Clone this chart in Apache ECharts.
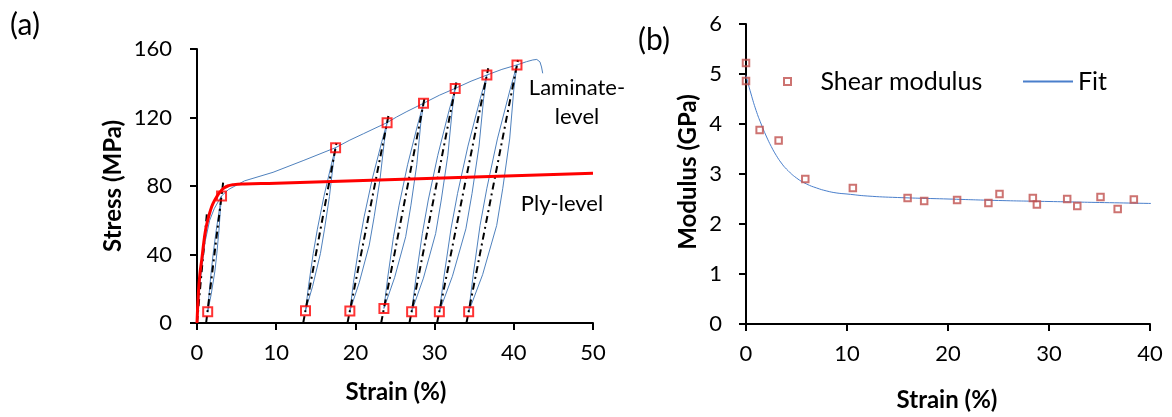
<!DOCTYPE html>
<html>
<head>
<meta charset="utf-8">
<script src="https://cdn.jsdelivr.net/npm/echarts@6/dist/echarts.min.js"></script>
<style>
html,body{margin:0;padding:0;background:#fff;}
#chart{width:1172px;height:417px;}
</style>
</head>
<body>
<div id="chart"></div>
<script>
// ---------- Panel (a) data ----------
const stressTicks = [0, 40, 80, 120, 160];
const strainTicksA = [0, 10, 20, 30, 40, 50];

// Ply-level model curve (red)
const plyLevel = [[0,0],[0.17,17],[0.35,28],[0.6,37],[1.0,52],[1.3,59],[1.65,65],[2.0,69.5],[2.5,73.8],[3.0,77],[3.4,78.8],[4.0,80.2],[4.6,80.8],[6,81.2],[10,81.6],[20,83],[30,84.5],[40,86],[50,87.4]];

// Laminate-level test curve (blue), load/unload loops in path order
const laminatePath = [
  [0,0],[0.4,24],[1.0,47],[1.6,60],[2.2,67],[2.7,71],[3.1,74.2],
  [2.97,67.4],[2.77,53.9],[2.50,40.4],[2.26,30.3],[1.79,16.7],[1.35,6.6],[1.52,16.7],[1.80,30.3],[2.04,40.4],[2.42,53.9],[2.86,67.4],[3.1,74.2],
  [4,78],[6,83],[9.6,88],[13.5,95],[17.5,102.4],
  [17.20,92.9],[16.72,73.8],[16.10,54.8],[15.58,40.5],[14.60,21.5],[13.7,7.2],[14.08,21.5],[14.67,40.5],[15.20,54.8],[16.02,73.8],[16.98,92.9],[17.5,102.4],
  [19.3,106.8],[21,110.5],[22.6,114],[24,117],
  [23.65,106],[23.11,84],[22.37,62],[21.75,45.5],[20.48,23.5],[19.3,7.0],[19.75,23.5],[20.46,45.5],[21.10,62],[22.12,84],[23.34,106],[24,117],
  [25.2,120.3],[26.5,123.5],[28.6,128.3],
  [28.25,116.3],[27.75,92.4],[27.0,68.4],[26.35,50.4],[24.95,26.5],[23.6,8.5],[24.08,26.5],[24.81,50.4],[25.5,68.4],[26.59,92.4],[27.89,116.3],[28.6,128.3],
  [30.6,133],[32.6,137],
  [32.22,124],[31.67,97.9],[30.84,71.8],[30.13,52.2],[28.59,26.2],[27.1,6.6],[27.64,26.2],[28.45,52.2],[29.20,71.8],[30.40,97.9],[31.82,124],[32.6,137],
  [34.6,141.2],[36.6,144.8],
  [36.19,131],[35.61,103.3],[34.73,75.7],[33.95,55],[32.25,27.3],[30.6,6.6],[31.19,27.3],[32.07,55],[32.9,75.7],[34.21,103.3],[35.76,131],[36.6,144.8],
  [38.5,148.1],[40.4,150.7],
  [40.0,136.3],[39.48,107.5],[38.61,78.7],[37.84,57.0],[36.06,28.2],[34.3,6.6],[34.88,28.2],[35.74,57.0],[36.6,78.7],[37.93,107.5],[39.53,136.3],[40.4,150.7],
  [41.6,152.6],[42.4,153.6],[42.9,153.9],[43.3,152.5],[43.5,149.5],[43.65,145.8]
];

// Loop end points (red squares)
const loopMarkers = [[1.35,6.6],[3.1,74.2],[13.7,7.2],[17.5,102.4],[19.3,7.0],[24.0,117],[23.6,8.5],[28.6,128.3],[27.1,6.6],[32.6,137],[30.6,6.6],[36.6,144.8],[34.3,6.6],[40.4,150.7]];

// Secant (chord) lines, black dash-dot
const chordLines = [
  [[0,0],[1.25,64]],
  [[1.15,0],[3.3,82]],
  [[13.41,0],[17.66,106.4]],
  [[19.0,0],[24.17,121]],
  [[23.25,0],[28.77,132.3]],
  [[26.82,0],[32.77,141]],
  [[30.31,0],[36.77,148.8]],
  [[34.02,0],[40.57,154.7]]
];

// ---------- Panel (b) data ----------
const modulusTicks = [0, 1, 2, 3, 4, 5, 6];
const strainTicksB = [0, 10, 20, 30, 40];
const shearModulus = [[0,5.22],[0,4.86],[1.35,3.88],[3.23,3.67],[5.87,2.90],[10.58,2.72],[16.0,2.52],[17.64,2.46],[20.9,2.48],[24.0,2.42],[25.1,2.60],[28.4,2.52],[28.8,2.39],[31.8,2.50],[32.8,2.36],[35.1,2.54],[36.8,2.30],[38.4,2.49]];
const fitCurve = [[0,4.97],[0.5,4.6],[1,4.27],[1.5,4.0],[2,3.76],[2.5,3.55],[3,3.37],[3.5,3.22],[4,3.10],[5,2.92],[6,2.80],[7,2.72],[8,2.66],[9,2.62],[10,2.60],[12,2.56],[15,2.53],[20,2.50],[25,2.47],[30,2.45],[35,2.43],[40.3,2.41]];

// ---------- chart ----------
const FONT = 'Lato';
const chart = echarts.init(document.getElementById('chart'), null, {renderer: 'canvas'});

function axisCommon(extra) {
  return Object.assign({
    type: 'value',
    splitLine: {show: false},
    axisLine: {show: true, onZero: false, lineStyle: {color: '#000', width: 2}},
    axisTick: {show: true, inside: false, length: 7, lineStyle: {color: '#000', width: 2}},
    axisLabel: {color: '#000', fontFamily: FONT, fontSize: 22}
  }, extra);
}

const series = [];
series.push({
  name: 'Laminate-level', type: 'line', xAxisIndex: 0, yAxisIndex: 0,
  data: laminatePath, symbol: 'none', smooth: false,
  lineStyle: {color: '#4F81BD', width: 1}, z: 2
});
chordLines.forEach((seg, i) => {
  series.push({
    name: 'chord' + i, type: 'line', xAxisIndex: 0, yAxisIndex: 0,
    data: seg, symbol: 'none',
    lineStyle: {color: '#000', width: 2, type: [7, 4, 2, 4]}, z: 3
  });
});
series.push({
  name: 'Ply-level', type: 'line', xAxisIndex: 0, yAxisIndex: 0,
  data: plyLevel, symbol: 'none', smooth: true,
  lineStyle: {color: '#FF0000', width: 3}, z: 4
});
series.push({
  name: 'Loop points', type: 'scatter', xAxisIndex: 0, yAxisIndex: 0,
  data: loopMarkers, symbol: 'rect', symbolSize: 9,
  itemStyle: {color: 'rgba(0,0,0,0)', borderColor: '#FF0000', borderWidth: 2}, z: 5
});
series.push({
  name: 'Fit', type: 'line', xAxisIndex: 1, yAxisIndex: 1,
  data: fitCurve, symbol: 'none', smooth: true,
  itemStyle: {color: 'rgba(0,0,0,0)', borderWidth: 0},
  lineStyle: {color: '#4A7FCB', width: 1}, z: 2
});
series.push({
  name: 'Shear modulus', type: 'scatter', xAxisIndex: 1, yAxisIndex: 1,
  data: shearModulus, symbol: 'rect', symbolSize: 6.5,
  itemStyle: {color: 'rgba(0,0,0,0)', borderColor: '#C0504D', borderWidth: 2}, z: 3
});

const option = {
  animation: false,
  backgroundColor: '#fff',
  grid: [
    {left: 197, top: 49, width: 396, height: 274, containLabel: false},
    {left: 746, top: 24, width: 404, height: 300, containLabel: false}
  ],
  xAxis: [
    axisCommon({gridIndex: 0, min: strainTicksA[0], max: strainTicksA[strainTicksA.length-1], interval: 10,
      axisLabel: {color: '#000', fontFamily: FONT, fontSize: 22, margin: 19}}),
    axisCommon({gridIndex: 1, min: strainTicksB[0], max: strainTicksB[strainTicksB.length-1], interval: 10,
      axisLabel: {color: '#000', fontFamily: FONT, fontSize: 22, margin: 19}})
  ],
  yAxis: [
    axisCommon({gridIndex: 0, min: stressTicks[0], max: stressTicks[stressTicks.length-1], interval: 40,
      axisLabel: {color: '#000', fontFamily: FONT, fontSize: 22, margin: 25}}),
    axisCommon({gridIndex: 1, min: modulusTicks[0], max: modulusTicks[modulusTicks.length-1], interval: 1,
      axisLabel: {color: '#000', fontFamily: FONT, fontSize: 22, margin: 24}})
  ],
  legend: [
    {
      data: [{name: 'Shear modulus', icon: 'path://M0,0L10,0L10,10L0,10Z',
        itemStyle: {color: 'rgba(0,0,0,0)', borderColor: '#C0504D', borderWidth: 2}}],
      left: 783, top: 69, padding: 0, itemWidth: 56, itemHeight: 7,
      textStyle: {color: '#000', fontFamily: FONT, fontSize: 25}
    },
    {
      data: [{name: 'Fit', itemStyle: {color: 'rgba(0,0,0,0)', borderWidth: 0, opacity: 0}}],
      left: 1022, top: 69, padding: 0, itemWidth: 50, itemHeight: 14,
      textStyle: {color: '#000', fontFamily: FONT, fontSize: 25}
    }
  ],
  graphic: [
    {type: 'text', x: 25, y: 25, style: {text: '(a)', font: '30px ' + FONT, fill: '#000', align: 'center', verticalAlign: 'middle'}},
    {type: 'text', x: 654, y: 40, style: {text: '(b)', font: '30px ' + FONT, fill: '#000', align: 'center', verticalAlign: 'middle'}},
    {type: 'text', x: 113, y: 186, rotation: Math.PI / 2, style: {text: 'Stress (MPa)', font: 'bold 24px ' + FONT, fill: '#000', align: 'center', verticalAlign: 'middle'}},
    {type: 'text', x: 396, y: 392, style: {text: 'Strain (%)', font: 'bold 24px ' + FONT, fill: '#000', align: 'center', verticalAlign: 'middle'}},
    {type: 'text', x: 688, y: 172, rotation: Math.PI / 2, style: {text: 'Modulus (GPa)', font: 'bold 24px ' + FONT, fill: '#000', align: 'center', verticalAlign: 'middle'}},
    {type: 'text', x: 947, y: 400, style: {text: 'Strain (%)', font: 'bold 24px ' + FONT, fill: '#000', align: 'center', verticalAlign: 'middle'}},
    {type: 'text', x: 577, y: 102, style: {text: 'Laminate-\nlevel', font: '22px ' + FONT, lineHeight: 29, fill: '#000', align: 'center', verticalAlign: 'middle'}},
    {type: 'text', x: 562, y: 204, style: {text: 'Ply-level', font: '22px ' + FONT, fill: '#000', align: 'center', verticalAlign: 'middle'}}
  ],
  series: series
};
chart.setOption(option);
</script>
</body>
</html>
